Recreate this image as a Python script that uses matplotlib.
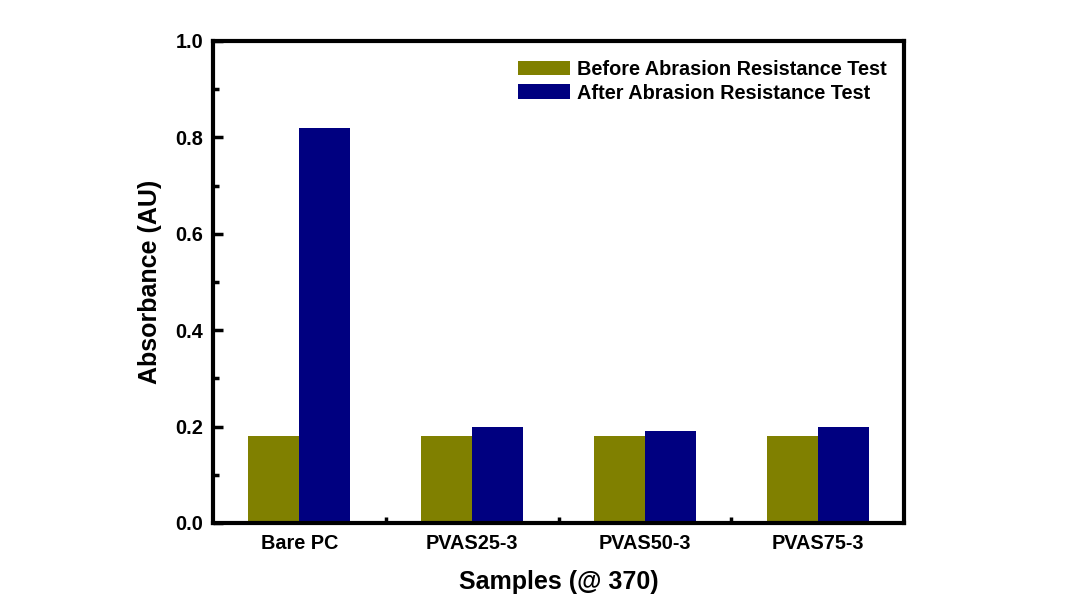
import numpy as np
import matplotlib.pyplot as plt
from matplotlib.ticker import MultipleLocator, FixedLocator

plt.rcParams["font.family"] = ["Liberation Sans", "DejaVu Sans"]
plt.rcParams["font.weight"] = "bold"

SAMPLES = ["Bare PC", "PVAS25-3", "PVAS50-3", "PVAS75-3"]
BEFORE = [0.18, 0.18, 0.18, 0.18]
AFTER = [0.82, 0.20, 0.19, 0.20]
LABELS = ["Before Abrasion Resistance Test", "After Abrasion Resistance Test"]

fig = plt.figure(figsize=(10.66, 6.05), dpi=100)
ax = fig.add_axes([213 / 1066, 1 - 523 / 605, (904 - 213) / 1066, (523 - 41) / 605])

x = np.arange(len(SAMPLES)) + 0.5
w = 0.295
ax.bar(x - w / 2, BEFORE, w, color="#808000", label=LABELS[0])
ax.bar(x + w / 2, AFTER, w, color="#000080", label=LABELS[1])

ax.set_xlim(0, len(SAMPLES))
ax.set_ylim(0, 1.0)
ax.set_xticks(x)
ax.set_xticklabels(SAMPLES)
ax.xaxis.set_minor_locator(FixedLocator(np.arange(1, len(SAMPLES))))
ax.yaxis.set_major_locator(MultipleLocator(0.2))
ax.yaxis.set_minor_locator(MultipleLocator(0.1))
ax.yaxis.set_major_formatter(plt.FormatStrFormatter("%.1f"))

for s in ax.spines.values():
    s.set_linewidth(3)
ax.tick_params(axis="y", which="major", direction="in", length=7, width=2.5, labelsize=14.3, pad=7)
ax.tick_params(axis="y", which="minor", direction="in", length=4, width=2.5)
ax.tick_params(axis="x", which="major", length=0, labelsize=14.3, pad=8)
ax.tick_params(axis="x", which="minor", direction="in", length=4, width=2.5)

ax.set_xlabel("Samples (@ 370)", fontsize=18, fontweight="bold", labelpad=12)
ax.set_ylabel("Absorbance (AU)", fontsize=18, fontweight="bold", labelpad=10)

ax.legend(loc="upper right", frameon=False, fontsize=14.3, handlelength=2.6,
          handleheight=0.75, handletextpad=0.35, labelspacing=0.25,
          bbox_to_anchor=(0.995, 0.99), borderaxespad=0.3)

fig.savefig("out.png", dpi=100)
